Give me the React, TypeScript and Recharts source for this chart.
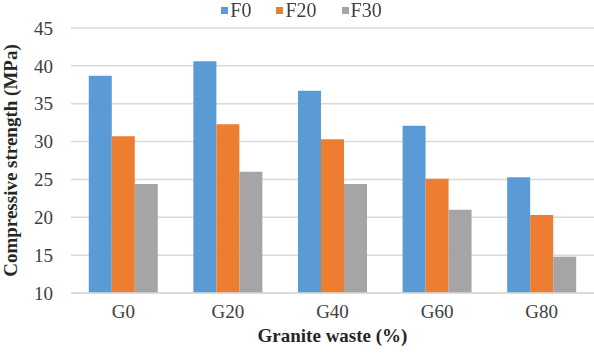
import { BarChart, Bar, XAxis, YAxis, CartesianGrid, Legend } from 'recharts';

const categories = ['G0', 'G20', 'G40', 'G60', 'G80'];
const f0 = [38.7, 40.6, 36.7, 32.1, 25.3];
const f20 = [30.7, 32.3, 30.3, 25.1, 20.3];
const f30 = [24.4, 26.0, 24.4, 21.0, 14.8];
const yTicks = [10, 15, 20, 25, 30, 35, 40, 45];

const data = categories.map((name, i) => ({ name, F0: f0[i], F20: f20[i], F30: f30[i] }));

const FONT = '"Liberation Serif", "Times New Roman", serif';

const renderLegend = (props: any) => (
  <div style={{ display: 'flex', justifyContent: 'center', paddingLeft: 9, fontFamily: FONT, fontSize: 20, lineHeight: '20px', color: '#404040' }}>
    {(props.payload || []).map((p: any, i: number) => (
      <div key={i} style={{ display: 'flex', alignItems: 'center', marginLeft: i ? 25 : 0 }}>
        <span style={{ width: 7, height: 7, background: p.color, display: 'inline-block', marginRight: 2 }} />
        <span>{p.value}</span>
      </div>
    ))}
  </div>
);

export default function App() {
  return (
    <div style={{ position: 'fixed', left: 0, top: 0, width: 594, height: 354, background: '#fff', fontFamily: FONT }}>
      <BarChart
        width={594}
        height={354}
        data={data}
        margin={{ top: 8, right: 0, left: 0, bottom: 0 }}
        barGap={0}
        barCategoryGap="17%"
      >
        <CartesianGrid vertical={false} stroke="#d9d9d9" strokeWidth={1.5} />
        <XAxis
          dataKey="name"
          axisLine={{ stroke: '#d9d9d9', strokeWidth: 1.5 }}
          tickLine={false}
          tick={{ fill: '#404040', fontSize: 19, fontFamily: FONT }}
          tickMargin={6}
          height={61}
          label={{
            value: 'Granite waste (%)',
            position: 'insideBottom',
            offset: 12,
            style: { fill: '#262626', fontSize: 19, fontWeight: 'bold', fontFamily: FONT },
          }}
        />
        <YAxis
          domain={[10, 45]}
          ticks={yTicks}
          axisLine={false}
          tickLine={false}
          tick={{ fill: '#404040', fontSize: 19, fontFamily: FONT }}
          tickMargin={12}
          width={71}
          label={{
            value: 'Compressive  strength (MPa)',
            angle: -90,
            position: 'insideLeft',
            offset: 10,
            style: { textAnchor: 'middle', fill: '#262626', fontSize: 19, fontWeight: 'bold', fontFamily: FONT, whiteSpace: 'pre' },
          }}
        />
        <Legend verticalAlign="top" align="center" wrapperStyle={{ top: 0, left: 0, width: 594 }} content={renderLegend} />
        <Bar dataKey="F0" fill="#5b9bd5" isAnimationActive={false} />
        <Bar dataKey="F20" fill="#ed7d31" isAnimationActive={false} />
        <Bar dataKey="F30" fill="#a5a5a5" isAnimationActive={false} />
      </BarChart>
    </div>
  );
}
